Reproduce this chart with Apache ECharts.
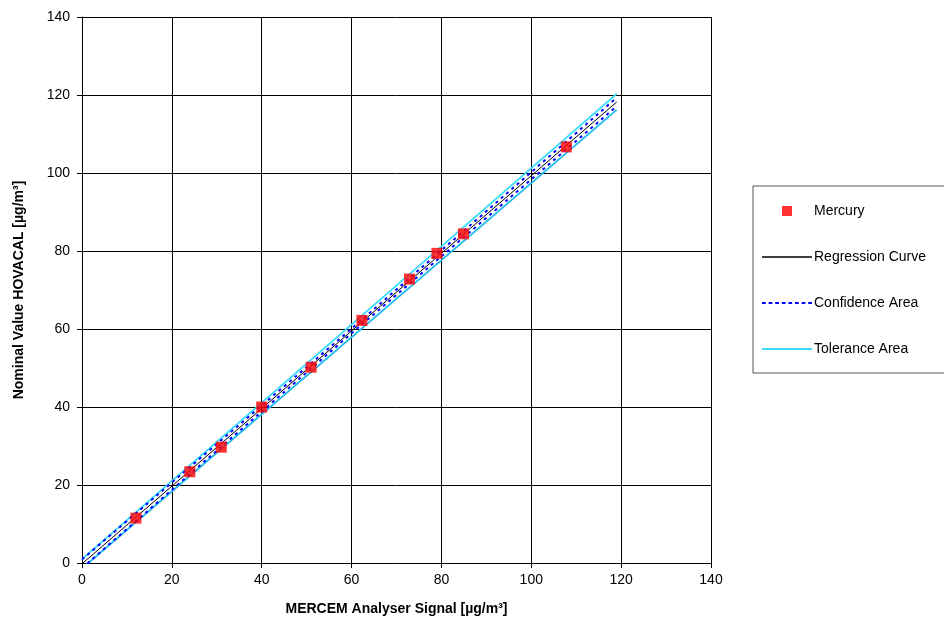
<!DOCTYPE html>
<html>
<head>
<meta charset="utf-8">
<script src="https://cdn.jsdelivr.net/npm/echarts@6/dist/echarts.min.js"></script>
<style>
html,body{margin:0;padding:0;background:#fff;}
#chart{width:944px;height:618px;}
</style>
</head>
<body>
<div id="chart"></div>
<script>
// Mercury measurement points
var mercuryX = [12, 24, 31, 40, 51, 62.3, 72.9, 79, 84.9, 107.8];
var mercuryY = [11.5, 23.4, 29.7, 40, 50.2, 62.2, 72.8, 79.4, 84.4, 106.7];
// Regression curve
var regX = [0, 119];
var regY = [-0.2, 118.2];
// Confidence area
var confX = [0, 60, 119];
var confUpperY = [0.9, 60.1, 119.3];
var confLowerY = [-1.3, 58.9, 117.1];
// Tolerance area
var tolX = [0, 119];
var tolUpperY = [1.0, 120.3];
var tolLowerY = [-1.4, 116.2];
// Axis ticks
var axisMin = 0, axisMax = 140, axisStep = 20;

function pairs(xs, ys){ return xs.map(function(x,i){ return [x, ys[i]]; }); }

var dashPath = 'path://';
for (var d = 0; d < 50; d += 7) { dashPath += 'M' + d + ',0h4v2h-4z'; }
dashPath += 'M0,0h0.01v2h-0.01zM50,0h0.01v2h-0.01z';

var font = '"Liberation Sans", Arial, sans-serif';
var chart = echarts.init(document.getElementById('chart'), null, {renderer:'canvas'});
var axisCommon = {
  type:'value', min:axisMin, max:axisMax, interval:axisStep,
  axisLine:{show:true, onZero:false, lineStyle:{color:'#000', width:1}},
  axisTick:{show:true, inside:false, length:5, lineStyle:{color:'#000'}},
  splitLine:{show:true, lineStyle:{color:'#000', width:1}},
  nameLocation:'middle',
  nameTextStyle:{fontFamily:font, fontWeight:'bold', fontSize:14, color:'#000'}
};
var option = {
  backgroundColor:'#fff',
  animation:false,
  grid:{left:82, top:17, right:233, bottom:55, containLabel:false, outerBoundsMode:'none'},
  xAxis: Object.assign({}, axisCommon, {
    name:'MERCEM Analyser Signal [µg/m³]', nameGap:39,
    axisLabel:{fontFamily:font, fontSize:14, color:'#000', margin:10}
  }),
  yAxis: Object.assign({}, axisCommon, {
    name:'Nominal Value HOVACAL [µg/m³]', nameGap:56,
    axisLabel:{fontFamily:font, fontSize:14, color:'#000', margin:12}
  }),
  legend:{
    orient:'vertical', left:753, top:186,
    padding:[18, 30, 17, 9],
    itemGap:32, itemWidth:50, itemHeight:10,
    symbolKeepAspect:true,
    borderColor:'#555', borderWidth:1, backgroundColor:'#fff',
    textStyle:{fontFamily:font, fontSize:14, color:'#000', padding:[0,0,0,-3]},
    data:[
      {name:'Mercury', icon:'path://M0,0h10v10h-10z', itemStyle:{color:'#ff0000'}},
      {name:'Regression Curve', icon:'path://M0,0h50v1.4h-50z', itemStyle:{color:'#000000'}},
      {name:'Confidence Area', icon:dashPath, itemStyle:{color:'#0000ff'}},
      {name:'Tolerance Area', icon:'path://M0,0h50v1.6h-50z', itemStyle:{color:'#00ccff'}}
    ]
  },
  series:[
    {name:'Tolerance Area', type:'line', data:pairs(tolX, tolUpperY), showSymbol:false, symbol:'none', clip:true,
     lineStyle:{color:'#33ddff', width:1.8}, itemStyle:{color:'#00ccff'}, z:2},
    {name:'Tolerance Area', type:'line', data:pairs(tolX, tolLowerY), showSymbol:false, symbol:'none', clip:true,
     lineStyle:{color:'#1bbbee', width:1.8}, itemStyle:{color:'#00ccff'}, z:2},
    {name:'Confidence Area', type:'line', data:pairs(confX, confUpperY), showSymbol:false, symbol:'none', clip:true,
     lineStyle:{color:'#0000ff', width:2, type:[3,4]}, itemStyle:{color:'#0000ff'}, z:3},
    {name:'Confidence Area', type:'line', data:pairs(confX, confLowerY), showSymbol:false, symbol:'none', clip:true,
     lineStyle:{color:'#0000ff', width:2, type:[3,4]}, itemStyle:{color:'#0000ff'}, z:3},
    {name:'Regression Curve', type:'line', data:pairs(regX, regY), showSymbol:false, symbol:'none', clip:true,
     lineStyle:{color:'#000', width:1}, itemStyle:{color:'#000'}, z:4},
    {name:'Mercury', type:'scatter', data:pairs(mercuryX, mercuryY), symbol:'rect', symbolSize:11,
     itemStyle:{color:'#ff0000'}, z:5}
  ]
};
chart.setOption(option);
</script>
</body>
</html>
